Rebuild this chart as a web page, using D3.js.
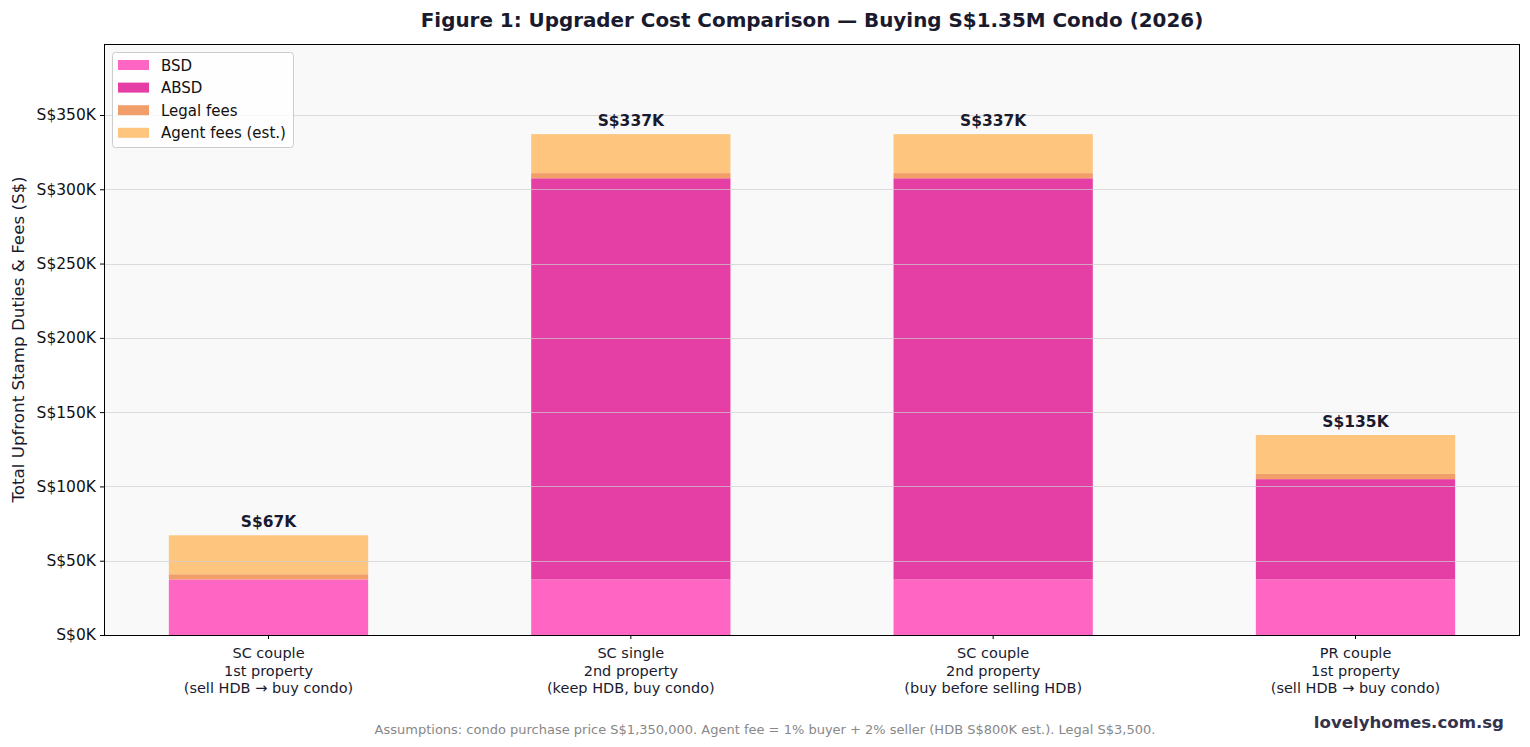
<!DOCTYPE html>
<html>
<head>
<meta charset="utf-8">
<script src="https://cdn.jsdelivr.net/npm/d3@7"></script>
<style>
  body { margin: 0; background: #fff; font-family: "DejaVu Sans", sans-serif; }
</style>
</head>
<body>
<div id="chart"></div>
<script>
// data
var categories = [
  ["SC couple", "1st property", "(sell HDB \u2192 buy condo)"],
  ["SC single", "2nd property", "(keep HDB, buy condo)"],
  ["SC couple", "2nd property", "(buy before selling HDB)"],
  ["PR couple", "1st property", "(sell HDB \u2192 buy condo)"]
];
var bsd = [37400, 37400, 37400, 37400];
var absd = [0, 270000, 270000, 67500];
var legal = [3500, 3500, 3500, 3500];
var agent = [26200, 26200, 26200, 26200];
var seriesNames = ["BSD", "ABSD", "Legal fees", "Agent fees (est.)"];
var seriesColors = ["#ff66c4", "#e53fa5", "#f29e6b", "#fdc57d"];
var yTicks = [0, 50000, 100000, 150000, 200000, 250000, 300000, 350000];

var W = 1530, H = 747;
var margin = {top: 44, right: 10, bottom: 112, left: 104},
    width = W - margin.left - margin.right,
    height = H - margin.top - margin.bottom;

var rows = categories.map(function(c, i) {
  return {i: i, BSD: bsd[i], ABSD: absd[i], "Legal fees": legal[i], "Agent fees (est.)": agent[i]};
});
var totals = rows.map(function(r) { return r.BSD + r.ABSD + r["Legal fees"] + r["Agent fees (est.)"]; });

var x = d3.scaleBand()
    .domain(d3.range(categories.length))
    .range([0, width])
    .paddingInner(0.45)
    .paddingOuter(0.179);

var y = d3.scaleLinear()
    .domain([0, d3.max(totals) * 1.18])
    .range([height, 0]);

var svg = d3.select("#chart").append("svg")
    .attr("width", W)
    .attr("height", H);

var g = svg.append("g")
    .attr("transform", "translate(" + margin.left + "," + margin.top + ")");

// plot background
g.append("rect")
    .attr("width", width)
    .attr("height", height)
    .attr("fill", "#f9f9f9");

// stacked bars
var stack = d3.stack().keys(seriesNames)(rows);

g.selectAll("g.layer")
  .data(stack)
  .enter().append("g")
    .attr("class", "layer")
    .attr("fill", function(d, i) { return seriesColors[i]; })
  .selectAll("rect")
  .data(function(d) { return d; })
  .enter().append("rect")
    .attr("x", function(d) { return x(d.data.i); })
    .attr("width", x.bandwidth())
    .attr("y", function(d) { return y(d[1]); })
    .attr("height", function(d) { return y(d[0]) - y(d[1]); });

// grid on top of bars
g.selectAll("line.grid")
  .data(yTicks.slice(1))
  .enter().append("line")
    .attr("class", "grid")
    .attr("x1", 0)
    .attr("x2", width)
    .attr("y1", function(d) { return Math.round(y(d)) + 0.5; })
    .attr("y2", function(d) { return Math.round(y(d)) + 0.5; })
    .attr("stroke", "#cfcfcf")
    .attr("stroke-opacity", 0.7)
    .attr("stroke-width", 1);

// total labels
g.selectAll("text.total")
  .data(totals)
  .enter().append("text")
    .attr("class", "total")
    .attr("x", function(d, i) { return x(i) + x.bandwidth() / 2; })
    .attr("y", function(d) { return y(d) - 8; })
    .attr("text-anchor", "middle")
    .attr("font-size", "15.5px")
    .attr("font-weight", "bold")
    .attr("fill", "#1a1a2e")
    .text(function(d) { return "S$" + Math.round(d / 1000) + "K"; });

// y axis
var yAxis = g.append("g")
    .call(d3.axisLeft(y).tickValues(yTicks).tickSize(4).tickPadding(4)
      .tickFormat(function(d) { return "S$" + (d / 1000) + "K"; }));
yAxis.select(".domain").remove();
yAxis.selectAll("text").attr("font-size", "15.5px").attr("fill", "#111").attr("font-family", "DejaVu Sans");
yAxis.selectAll("line").attr("stroke", "#000");

// x axis
var xAxis = g.append("g")
    .attr("transform", "translate(0," + height + ")")
    .call(d3.axisBottom(x).tickSize(4).tickFormat(""));
xAxis.select(".domain").remove();
xAxis.selectAll("line").attr("stroke", "#000");
xAxis.selectAll(".tick").each(function(d) {
  var t = d3.select(this).append("text")
      .attr("text-anchor", "middle")
      .attr("font-size", "14.5px")
      .attr("font-family", "DejaVu Sans")
      .attr("fill", "#1a1a2e");
  categories[d].forEach(function(line, k) {
    t.append("tspan").attr("x", 0).attr("y", 23 + k * 17.5).text(line);
  });
});

// frame
g.append("rect")
    .attr("x", 0.5)
    .attr("y", 0.5)
    .attr("width", width - 1)
    .attr("height", height)
    .attr("fill", "none")
    .attr("stroke", "#000")
    .attr("stroke-width", 1);

// legend
var legend = g.append("g").attr("transform", "translate(8,8)");
legend.append("rect")
    .attr("x", 0.5)
    .attr("y", 0.5)
    .attr("width", 181)
    .attr("height", 95)
    .attr("rx", 3)
    .attr("fill", "#fff")
    .attr("fill-opacity", 0.8)
    .attr("stroke", "#cccccc");
seriesNames.forEach(function(name, i) {
  var row = legend.append("g").attr("transform", "translate(6," + (8 + i * 22.6) + ")");
  row.append("rect").attr("width", 31).attr("height", 10).attr("fill", seriesColors[i]);
  row.append("text")
      .attr("x", 43).attr("y", 10.5)
      .attr("font-size", "15px")
      .attr("fill", "#111")
      .text(name);
});

// y label
svg.append("text")
    .attr("transform", "translate(24," + (margin.top + height / 2) + ") rotate(-90)")
    .attr("text-anchor", "middle")
    .attr("font-size", "16.7px")
    .attr("fill", "#1a1a2e")
    .text("Total Upfront Stamp Duties & Fees (S$)");

// title
svg.append("text")
    .attr("x", margin.left + width / 2)
    .attr("y", 27)
    .attr("text-anchor", "middle")
    .attr("font-size", "19.9px")
    .attr("font-weight", "bold")
    .attr("fill", "#1a1a2e")
    .text("Figure 1: Upgrader Cost Comparison \u2014 Buying S$1.35M Condo (2026)");

// footnote
svg.append("text")
    .attr("x", W / 2)
    .attr("y", 733.5)
    .attr("text-anchor", "middle")
    .attr("font-size", "13px")
    .attr("fill", "#888")
    .text("Assumptions: condo purchase price S$1,350,000. Agent fee = 1% buyer + 2% seller (HDB S$800K est.). Legal S$3,500.");

// brand
svg.append("text")
    .attr("x", 1504)
    .attr("y", 728)
    .attr("text-anchor", "end")
    .attr("font-size", "16.6px")
    .attr("font-weight", "bold")
    .attr("fill", "#33334d")
    .text("lovelyhomes.com.sg");
</script>
</body>
</html>
